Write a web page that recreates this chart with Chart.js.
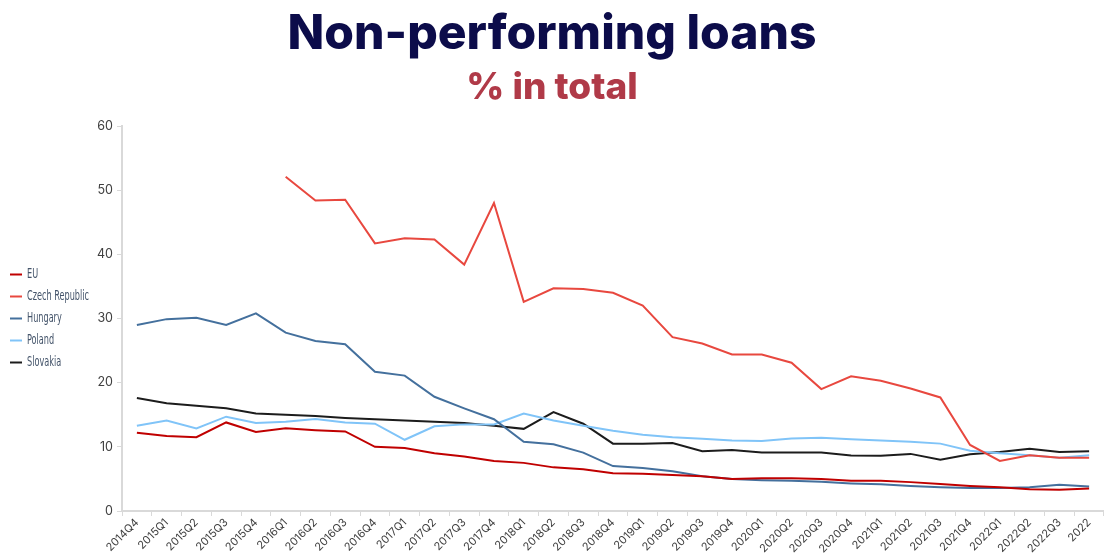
<!DOCTYPE html>
<html>
<head>
<meta charset="utf-8">
<script src="https://cdn.jsdelivr.net/npm/chart.js@4"></script>
<style>
  html, body { margin: 0; padding: 0; background: #ffffff; }
  #wrap { width: 1104px; height: 554px; }
</style>
</head>
<body>
<div id="wrap"><canvas id="npl"></canvas></div>
<script>
const quarters = [
    '2014Q4',
    '2015Q1', '2015Q2', '2015Q3', '2015Q4',
    '2016Q1', '2016Q2', '2016Q3', '2016Q4',
    '2017Q1', '2017Q2', '2017Q3', '2017Q4',
    '2018Q1', '2018Q2', '2018Q3', '2018Q4',
    '2019Q1', '2019Q2', '2019Q3', '2019Q4',
    '2020Q1', '2020Q2', '2020Q3', '2020Q4',
    '2021Q1', '2021Q2', '2021Q3', '2021Q4',
    '2022Q1', '2022Q2', '2022Q3', '2022'
];

const euValues = [12.2, 11.7, 11.5, 13.8, 12.3, 12.9, 12.6, 12.4, 10.0, 9.8, 9.0, 8.5, 7.8, 7.5, 6.8, 6.5,
    5.9, 5.8, 5.6, 5.4, 5.0, 5.1, 5.1, 5.0, 4.7, 4.7, 4.5, 4.2, 3.9, 3.7, 3.4, 3.3, 3.5];
const czechValues = [null, null, null, null, null, 52.1, 48.4, 48.5, 41.7, 42.5, 42.3, 38.4, 48.0, 32.6, 34.7, 34.6,
    34.0, 32.0, 27.1, 26.1, 24.4, 24.4, 23.1, 19.0, 21.0, 20.3, 19.1, 17.7, 10.3, 7.8, 8.7, 8.3, 8.3];
const hungaryValues = [29.0, 29.9, 30.1, 29.0, 30.8, 27.8, 26.5, 26.0, 21.7, 21.1, 17.8, 16.0, 14.3, 10.8, 10.4, 9.1,
    7.0, 6.7, 6.2, 5.4, 5.0, 4.8, 4.7, 4.55, 4.3, 4.15, 3.9, 3.7, 3.6, 3.6, 3.7, 4.1, 3.8];
const polandValues = [13.3, 14.1, 12.85, 14.7, 13.7, 13.9, 14.35, 13.8, 13.6, 11.1, 13.2, 13.5, 13.5, 15.2, 14.1, 13.3,
    12.5, 11.9, 11.5, 11.25, 11.0, 10.9, 11.3, 11.4, 11.2, 11.0, 10.8, 10.5, 9.4, 9.0, 8.7, 8.3, 8.7];
const slovakiaValues = [17.6, 16.8, 16.4, 16.0, 15.2, 15.0, 14.8, 14.5, 14.3, 14.1, 13.9, 13.7, 13.3, 12.8, 15.4, 13.6,
    10.5, 10.5, 10.6, 9.3, 9.5, 9.1, 9.1, 9.1, 8.65, 8.6, 8.9, 8.0, 8.85, 9.2, 9.7, 9.2, 9.3];

const yTicks = [0, 10, 20, 30, 40, 50, 60];

function lineSet(label, data, color) {
    return {
        label: label,
        data: data,
        borderColor: color,
        backgroundColor: color,
        borderWidth: 2,
        pointRadius: 0,
        pointHoverRadius: 0,
        tension: 0,
        spanGaps: false
    };
}

// legend drawn by hand so it sits where the original one does (narrow font, left of the axis)
const sideLegend = {
    id: 'sideLegend',
    afterDraw(chart) {
        const c = chart.ctx;
        const sets = chart.data.datasets;
        const mid = (chart.chartArea.top + chart.chartArea.bottom) / 2;
        const step = 22;
        const top = mid - step * (sets.length - 1) / 2;
        c.save();
        c.font = '14px "DejaVu Sans Condensed", "Liberation Sans Narrow", Roboto, sans-serif';
        c.textBaseline = 'middle';
        // squeeze so "Czech Republic" is about 62px wide, as in the original
        const squeeze = Math.min(1, 62 / c.measureText('Czech Republic').width);
        sets.forEach((ds, i) => {
            const y = top + i * step;
            c.strokeStyle = ds.borderColor;
            c.lineWidth = 2;
            c.beginPath();
            c.moveTo(10, y);
            c.lineTo(22, y);
            c.stroke();
            c.fillStyle = '#44546a';
            c.save();
            c.translate(27, y);
            c.scale(squeeze, 1);
            c.fillText(ds.label, 0, 0);
            c.restore();
        });
        c.restore();
    }
};

const ctx = document.getElementById('npl').getContext('2d');
new Chart(ctx, {
    type: 'line',
    data: {
        labels: quarters,
        datasets: [
            lineSet('EU', euValues, '#c00000'),
            lineSet('Czech Republic', czechValues, '#e8483f'),
            lineSet('Hungary', hungaryValues, '#44709d'),
            lineSet('Poland', polandValues, '#80c4f8'),
            lineSet('Slovakia', slovakiaValues, '#1c1c1c')
        ]
    },
    options: {
        responsive: true,
        maintainAspectRatio: false,
        animation: false,
        layout: { padding: 0 },
        plugins: {
            title: {
                display: true,
                text: 'Non-performing loans',
                color: '#0c0c4a',
                font: { family: 'Inter, "Open Sans", sans-serif', size: 48, weight: '800' },
                padding: { top: 6, bottom: 2 }
            },
            subtitle: {
                display: true,
                text: '% in total',
                color: '#b03a48',
                font: { family: 'Inter, "Open Sans", sans-serif', size: 37, weight: '800' },
                padding: { top: 0, bottom: 16 }
            },
            legend: { display: false },
            tooltip: { enabled: false }
        },
        scales: {
            x: {
                offset: true,
                grid: {
                    display: true,
                    drawOnChartArea: false,
                    offset: true,
                    tickLength: 5,
                    color: '#d9d9d9'
                },
                border: { display: true, color: '#d9d9d9', width: 2 },
                ticks: {
                    autoSkip: false,
                    minRotation: 45,
                    maxRotation: 45,
                    color: '#404040',
                    padding: 0,
                    font: { family: 'Inter, "Open Sans", sans-serif', size: 11 }
                },
                afterFit: (scale) => { scale.height = 43; }
            },
            y: {
                min: 0,
                max: 60,
                afterBuildTicks: (scale) => {
                    scale.ticks = yTicks.map(v => ({ value: v }));
                },
                grid: {
                    display: true,
                    drawOnChartArea: false,
                    tickLength: 5,
                    color: '#d9d9d9'
                },
                border: { display: true, color: '#d9d9d9', width: 2 },
                ticks: {
                    color: '#404040',
                    padding: 4,
                    font: { family: 'Inter, "Open Sans", sans-serif', size: 12.5 }
                },
                afterFit: (scale) => { scale.width = 122; }
            }
        }
    },
    plugins: [sideLegend]
});
</script>
</body>
</html>
